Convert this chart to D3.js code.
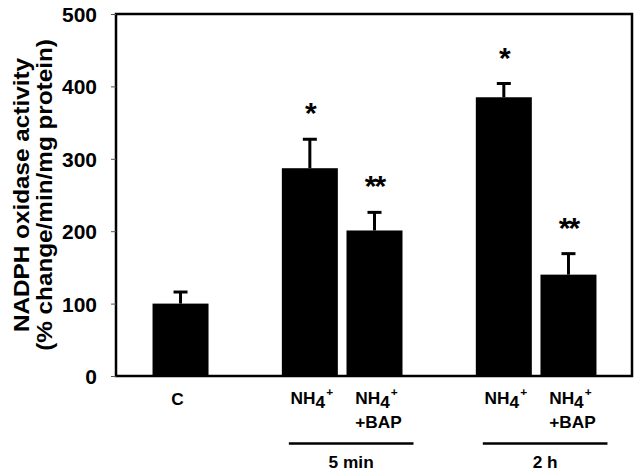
<!DOCTYPE html>
<html><head><meta charset="utf-8">
<script src="https://cdn.jsdelivr.net/npm/d3@7"></script>
<style>body{margin:0;background:#fff}svg{display:block}text{font-family:"Liberation Sans",Arial,sans-serif;font-weight:bold;fill:#000}</style>
</head><body>
<script>
const slots = ["C", "gap1", "NH4_5", "BAP_5", "gap2", "NH4_2", "BAP_2"];
const categories = ["C", "NH4_5", "BAP_5", "NH4_2", "BAP_2"];
const values = [100, 287, 201, 385, 140];
const errors = [16, 40, 25, 19, 29];
const stars = ["", "*", "**", "*", "**"];
const yTicks = [0, 100, 200, 300, 400, 500];
const groups = [{label: "5 min", from: "NH4_5", to: "BAP_5"}, {label: "2 h", from: "NH4_2", to: "BAP_2"}];

const W = 641, H = 474;
const svg = d3.select("body").append("svg").attr("width", W).attr("height", H);
const mLeft = 116, mRight = 632, mTop = 14, mBottom = 376;
const y = d3.scaleLinear().domain([0, 500]).range([mBottom, mTop]);
const x = d3.scaleBand().domain(slots).range([148.2, 600.8]).paddingInner(0.134).paddingOuter(0.067);
const bw = x.bandwidth();
const SX = 1.08;

// bars
svg.selectAll("rect.bar").data(categories).join("rect")
  .attr("x", d => x(d)).attr("width", bw)
  .attr("y", (d, i) => y(values[i])).attr("height", (d, i) => y(0) - y(values[i]))
  .attr("fill", "#000");

// error bars
const eb = svg.append("g").attr("stroke", "#000").attr("stroke-width", 3);
categories.forEach((d, i) => {
  const cx = x(d) + bw / 2;
  eb.append("line").attr("x1", cx).attr("x2", cx).attr("y1", y(values[i])).attr("y2", y(values[i] + errors[i]));
  eb.append("line").attr("x1", cx - 7).attr("x2", cx + 7).attr("y1", y(values[i] + errors[i])).attr("y2", y(values[i] + errors[i]));
});

// stars
categories.forEach((d, i) => {
  if (!stars[i]) return;
  svg.append("text").attr("x", x(d) + bw / 2).attr("y", y(values[i] + errors[i]) - 16)
    .attr("text-anchor", "middle").attr("font-size", 30).style("letter-spacing", "-2px").text(stars[i]);
});

// frame
svg.append("rect").attr("x", mLeft).attr("y", mTop).attr("width", mRight - mLeft).attr("height", mBottom - mTop)
  .attr("fill", "none").attr("stroke", "#000").attr("stroke-width", 2.5);

// y ticks labels
const yAxis = d3.axisLeft(y).tickValues(yTicks).tickSize(5).tickPadding(14);
const ya = svg.append("g").attr("transform", `translate(${mLeft},0)`).call(yAxis);
ya.select(".domain").remove();
ya.selectAll("line").attr("stroke", "#555").attr("stroke-width", 1);
ya.selectAll("text").attr("font-size", 21).attr("dy", "0.36em").style("font-family", '"Liberation Sans",Arial,sans-serif').style("font-weight", "bold");

// y title
const yt = svg.append("text").attr("transform", `translate(0,${(mTop + mBottom) / 2}) rotate(-90) scale(1.08,1)`).attr("text-anchor", "middle").attr("font-size", 22.5);
yt.append("tspan").attr("x", 0).attr("y", 29).text("NADPH oxidase activity");
yt.append("tspan").attr("x", 0).attr("y", 52).text("(% change/min/mg protein)");

// x labels
function label(cx, yy) {
  return svg.append("text").attr("transform", `translate(${cx},${yy}) scale(${SX},1)`).attr("text-anchor", "middle").attr("font-size", 16);
}
function nh4(sel) {
  sel.append("tspan").text("NH");
  sel.append("tspan").attr("dy", 4).attr("font-size", 16).text("4");
  sel.append("tspan").attr("dy", -12).attr("font-size", 11).attr("dx", 1).text("+");
}
categories.forEach((d, i) => {
  const cx = x(d) + bw / 2;
  if (d === "C") {
    label(cx - 3, 405).text("C");
  } else {
    nh4(label(cx + 2, 404));
    if (d.startsWith("BAP")) label(cx + 4, 428).text("+BAP");
  }
});

// group lines
groups.forEach(g => {
  const x1 = x(g.from) + 7, x2 = x(g.to) + bw + 11;
  svg.append("line").attr("x1", x1).attr("x2", x2).attr("y1", 443.5).attr("y2", 443.5).attr("stroke", "#000").attr("stroke-width", 2.5);
  label((x1 + x2) / 2, 468).text(g.label);
});
</script>
</body></html>
